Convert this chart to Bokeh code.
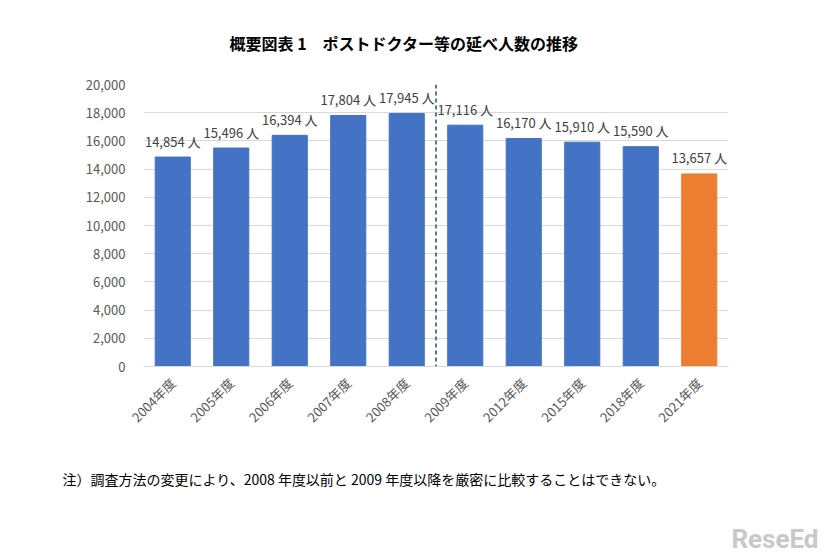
from bokeh.plotting import figure
from bokeh.models import ColumnDataSource, LabelSet, Span, NumeralTickFormatter, FixedTicker, Range1d, Title
from bokeh.core.properties import value
from bokeh.embed import file_html
from bokeh.resources import INLINE
import math

categories = ["2004年度", "2005年度", "2006年度", "2007年度", "2008年度",
              "2009年度", "2012年度", "2015年度", "2018年度", "2021年度"]
values = [14854, 15496, 16394, 17804, 17945, 17116, 16170, 15910, 15590, 13657]
colors = ["#4472C4"] * 9 + ["#ED7D31"]
labels = [f"{v:,} 人" for v in values]
y_ticks = list(range(0, 20001, 2000))

title_text = "概要図表 1　ポストドクター等の延べ人数の推移"
note_text = "注）調査方法の変更により、2008 年度以前と 2009 年度以降を厳密に比較することはできない。"

FONT = "Noto Sans CJK JP"

src = ColumnDataSource(dict(cat=categories, val=values, color=colors, label=labels))

p = figure(x_range=categories, y_range=Range1d(0, 20000), width=826, height=555,
           output_backend="svg", toolbar_location=None,
           min_border_left=143, min_border_right=98, min_border_top=84, min_border_bottom=189)
p.x_range.range_padding = 0
p.x_range.factor_padding = 0

p.vbar(x="cat", top="val", width=0.6, color="color", source=src)

p.add_layout(LabelSet(x="cat", y="val", text="label", source=src, text_align="center",
                      text_baseline="middle", y_offset=16, text_font_size="13px",
                      text_color="#404040", text_font=value(FONT)))

p.add_layout(Span(location=5, dimension="height", line_color="#1F4E79",
                  line_dash="4 3", line_width=1.5))

p.outline_line_color = None
p.xgrid.grid_line_color = None
p.ygrid.grid_line_color = "#D9D9D9"
p.ygrid.ticker = FixedTicker(ticks=y_ticks)

p.yaxis.ticker = FixedTicker(ticks=y_ticks)
p.yaxis.formatter = NumeralTickFormatter(format="0,0")
p.yaxis.axis_line_color = None
p.yaxis.major_tick_line_color = None
p.yaxis.minor_tick_line_color = None
p.yaxis.major_label_standoff = 12
p.yaxis.major_label_text_font_size = "13px"
p.yaxis.major_label_text_color = "#595959"
p.yaxis.major_label_text_font = FONT

p.xaxis.axis_line_color = "#D9D9D9"
p.xaxis.major_tick_line_color = None
p.xaxis.minor_tick_line_color = None
p.xaxis.major_label_orientation = math.pi / 4
p.xaxis.major_label_standoff = 8
p.xaxis.major_label_text_font_size = "13px"
p.xaxis.major_label_text_color = "#595959"
p.xaxis.major_label_text_font = FONT

p.title = Title(text=title_text, align="left", offset=86, standoff=56, vertical_align="top",
                text_font_size="16px", text_font=FONT,
                text_font_style="bold", text_color="#000000")

p.add_layout(Title(text=note_text, align="left", offset=-81, standoff=63,
                   text_font_size="14px", text_font=FONT,
                   text_font_style="normal", text_color="#000000"), "below")

p.add_layout(Title(text="ReseEd", align="right", offset=-90, standoff=2,
                   text_font_size="26px", text_font="Roboto",
                   text_font_style="bold", text_color="#C8C8C8"), "below")

open("out.html", "w").write(file_html(p, INLINE))
